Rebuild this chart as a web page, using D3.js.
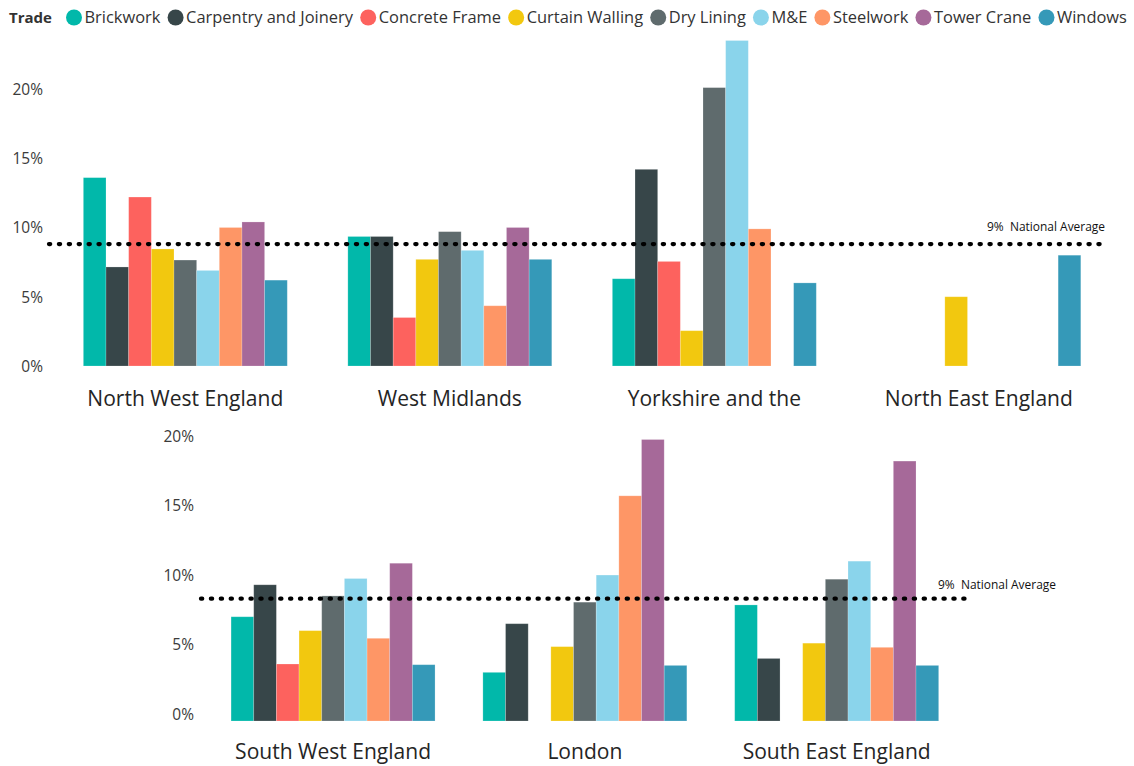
<!DOCTYPE html>
<html><head><meta charset="utf-8">
<script src="https://cdn.jsdelivr.net/npm/d3@7"></script>
<style>
html,body{margin:0;padding:0;background:#fff;}
svg{display:block;font-family:"Segoe UI","Open Sans","Noto Sans",sans-serif;}
</style></head><body>
<svg id="chart" width="1134" height="766"></svg>
<script>
// ---------- data ----------
const trades = ["Brickwork","Carpentry and Joinery","Concrete Frame","Curtain Walling","Dry Lining","M&E","Steelwork","Tower Crane","Windows"];
const tradeColors = ["#01B8AA","#374649","#FD625E","#F2C80F","#5F6B6D","#8AD4EB","#FE9666","#A66999","#3599B8"];

const topRegions = ["North West England","West Midlands","Yorkshire and the","North East England"];
const bottomRegions = ["South West England","London","South East England"];

// values in %, one per trade (null = no bar)
const northWestEngland = [13.6, 7.15, 12.2, 8.45, 7.65, 6.9, 10.0, 10.4, 6.2];
const westMidlands     = [9.35, 9.35, 3.5, 7.7, 9.7, 8.35, 4.35, 10.0, 7.7];
const yorkshireAndThe  = [6.3, 14.2, 7.55, 2.55, 20.1, 23.5, 9.9, null, 6.0];
const northEastEngland = [null, null, null, 5.0, null, null, null, null, 8.0];
const southWestEngland = [7.5, 9.8, 4.1, 6.5, 9.0, 10.25, 5.95, 11.35, 4.05];
const london           = [3.5, 7.0, null, 5.35, 8.55, 10.5, 16.2, 20.25, 4.0];
const southEastEngland = [8.35, 4.5, null, 5.6, 10.2, 11.5, 5.3, 18.7, 4.0];

const topValues = [northWestEngland, westMidlands, yorkshireAndThe, northEastEngland];
const bottomValues = [southWestEngland, london, southEastEngland];

const yTicks = [0, 5, 10, 15, 20];
const yTickLabels = ["0%", "5%", "10%", "15%", "20%"];
const nationalAverage = 8.8;
const nationalAverageLabel = "9%  National Average";
const legendTitle = "Trade";

// ---------- drawing ----------
const svg = d3.select("#chart");
const FONT = '"Segoe UI","Open Sans","Noto Sans",sans-serif';

function measure(text, size, weight) {
  const t = svg.append("text").attr("font-size", size).attr("font-weight", weight || "normal")
    .attr("font-family", FONT).text(text);
  const w = t.node().getComputedTextLength();
  t.remove();
  return w;
}
function fitSize(text, targetWidth, weight) {
  return 100 * targetWidth / measure(text, 100, weight);
}

const catSize = fitSize("North West England", 196);
const tickSize = fitSize("20%", 30.5);
const avgSize = fitSize(nationalAverageLabel, 115);

const panels = [
  { regions: topRegions, values: topValues, xRange: [83.35, 1080.8], padInner: 0.229,
    yRange: [366, 89], tickX: 43, tickShift: 0, avgX: [49, 1108],
    avgLabelX: 1105, avgLabelAnchor: "end", avgLabelDy: -17, catY: 406 },
  { regions: bottomRegions, values: bottomValues, xRange: [231.07, 938.67], padInner: 0.19,
    yRange: [721, 443], tickX: 194, tickShift: -7, avgX: [201, 970],
    avgLabelX: 938, avgLabelAnchor: "start", avgLabelDy: -14, catY: 759 }
];

panels.forEach(p => {
  const g = svg.append("g");
  const x0 = d3.scaleBand().domain(p.regions).range(p.xRange).paddingInner(p.padInner).paddingOuter(0);
  const x1 = d3.scaleBand().domain(trades).range([0, x0.bandwidth()]).padding(0);
  const y = d3.scaleLinear().domain([0, 20]).range(p.yRange);
  const color = d3.scaleOrdinal().domain(trades).range(tradeColors);

  // y axis labels (no line, no ticks)
  const yAxis = d3.axisLeft(y).tickValues(yTicks).tickSize(0).tickPadding(0)
    .tickFormat((d, i) => yTickLabels[i]);
  const ya = g.append("g").attr("transform", `translate(${p.tickX},0)`).call(yAxis);
  ya.select(".domain").remove();
  ya.selectAll("text").attr("font-size", tickSize).attr("font-family", FONT)
    .attr("fill", "#3b3b3b").attr("dy", "0.35em").attr("y", p.tickShift);

  // bars
  const groups = g.selectAll("g.region").data(p.regions).join("g")
    .attr("class", "region").attr("transform", d => `translate(${x0(d)},0)`);
  groups.selectAll("rect").data((d, i) => trades.map((t, j) => ({ trade: t, v: p.values[i][j] })).filter(e => e.v != null))
    .join("rect")
    .attr("x", d => x1(d.trade))
    .attr("width", x1.bandwidth())
    .attr("y", d => y(d.v))
    .attr("height", d => y(0) - y(d.v))
    .attr("fill", d => color(d.trade))
    .attr("stroke", "rgba(255,255,255,0.25)")
    .attr("stroke-width", 0.8);

  // category labels
  g.selectAll("text.cat").data(p.regions).join("text")
    .attr("class", "cat")
    .attr("x", d => x0(d) + x0.bandwidth() / 2)
    .attr("y", p.catY)
    .attr("text-anchor", "middle")
    .attr("font-size", catSize)
    .attr("font-family", FONT)
    .attr("fill", "#252525")
    .text(d => d);

  // national average dotted line
  const ay = y(nationalAverage);
  g.append("line")
    .attr("x1", p.avgX[0]).attr("x2", p.avgX[1])
    .attr("y1", ay).attr("y2", ay)
    .attr("stroke", "#000").attr("stroke-width", 4.3)
    .attr("stroke-linecap", "round").attr("stroke-dasharray", "1.2 8.7");
  g.append("text")
    .attr("x", p.avgLabelX).attr("y", ay + p.avgLabelDy)
    .attr("dy", "0.35em")
    .attr("text-anchor", p.avgLabelAnchor)
    .attr("font-size", avgSize).attr("font-family", FONT).attr("fill", "#111")
    .style("white-space", "pre")
    .text(nationalAverageLabel);
});

// ---------- legend ----------
const legend = svg.append("g");
const legendY = 17.5;
const titleSize = fitSize(legendTitle, 43, "bold");
legend.append("text").attr("x", 9).attr("y", legendY).attr("dy", "0.35em")
  .attr("font-size", titleSize).attr("font-weight", "bold").attr("font-family", FONT)
  .attr("fill", "#333").text(legendTitle);

const firstCircle = 74, circleToText = 10.5, textToCircle = 15, legendEnd = 1127;
const totalText = legendEnd - firstCircle - trades.length * circleToText - (trades.length - 1) * textToCircle;
const rawWidths = trades.map(t => measure(t, 100));
const legendSize = 100 * totalText / d3.sum(rawWidths);
let cx = firstCircle;
trades.forEach((t, i) => {
  legend.append("circle").attr("cx", cx).attr("cy", legendY).attr("r", 8).attr("fill", tradeColors[i]);
  legend.append("text").attr("x", cx + circleToText).attr("y", legendY).attr("dy", "0.35em")
    .attr("font-size", legendSize).attr("font-family", FONT).attr("fill", "#333").text(t);
  cx += circleToText + rawWidths[i] * legendSize / 100 + textToCircle;
});
</script>
</body></html>
